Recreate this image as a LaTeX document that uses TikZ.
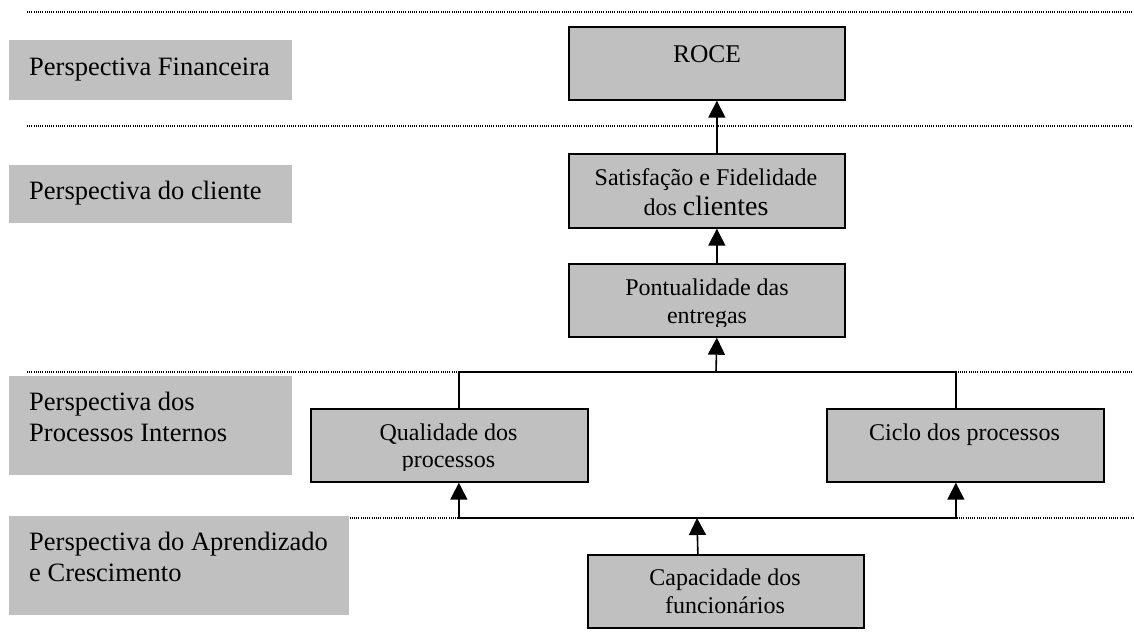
\documentclass[tikz,border=0pt]{standalone}
\usepackage{fontspec}
\setmainfont{Liberation Serif}
\usetikzlibrary{arrows.meta}
\definecolor{boxgray}{HTML}{C0C0C0}
\begin{document}
\begin{tikzpicture}[x=1pt,y=-1pt,
  lab/.style={fill=boxgray, draw=none, inner sep=0pt, anchor=north west},
  kbox/.style={fill=boxgray, draw=black, line width=1.7pt, inner sep=0pt, anchor=north west, minimum width=276pt, minimum height=73pt},
  ltxt/.style={anchor=base west, inner sep=0pt, font=\fontsize{26.5}{30}\selectfont},
  btxt/.style={anchor=base, inner sep=0pt, font=\fontsize{24}{28}\selectfont},
  dots/.style={line width=1.2pt, dash pattern=on 1pt off 1.2pt, black},
  conn/.style={line width=1.6pt},
  arr/.style={conn, -{Triangle[width=17pt,length=17pt]}}]
\useasboundingbox (0,0) rectangle (1134,635);

% dotted separators
\coordinate (d1a) at (27,12);  \coordinate (d1b) at (1134,12);
\coordinate (d2a) at (27,126); \coordinate (d2b) at (1134,126);
\coordinate (d3a) at (27,372); \coordinate (d3b) at (1134,372);
\coordinate (d4a) at (343,518); \coordinate (d4b) at (1134,518);
\draw[dots] (d1a) -- (d1b);
\draw[dots] (d2a) -- (d2b);
\draw[dots] (d3a) -- (d3b);
\draw[dots] (d4a) -- (d4b);

% left perspective labels
\node[lab, minimum width=283pt, minimum height=60pt] (pfin) at (9,40) {};
\node[ltxt] (pfint) at (29,75) {Perspectiva Financeira};
\node[lab, minimum width=283pt, minimum height=58pt] (pcli) at (9,165) {};
\node[ltxt] (pclit) at (29,199) {Perspectiva do cliente};
\node[lab, minimum width=283pt, minimum height=99pt] (ppro) at (9,376) {};
\node[ltxt] (pprot1) at (29,410) {Perspectiva dos};
\node[ltxt] (pprot2) at (29,441) {Processos Internos};
\node[lab, minimum width=340pt, minimum height=99pt] (papr) at (9,516) {};
\node[ltxt] (paprt1) at (29,550) {Perspectiva do Aprendizado};
\node[ltxt] (paprt2) at (29,581) {e Crescimento};

% boxes
\node[kbox] (roce) at (568,26) {};
\node[kbox, minimum height=74pt] (sat) at (568,153) {};
\node[kbox] (pont) at (568,263) {};
\node[kbox, minimum width=277pt] (qual) at (310,408) {};
\node[kbox, minimum width=277pt] (ciclo) at (826,408) {};
\node[kbox] (cap) at (587,554) {};

% box texts
\node[btxt, font=\fontsize{25.5}{28}\selectfont] (roceT) at (707,62) {ROCE};
\node[btxt] (satT1) at (706,185) {Satisfação e Fidelidade};
\node[btxt] (satT2) at (706,215) {dos {\fontsize{28}{30}\selectfont clientes}};
\begin{scope}
  \clip (568,263) rectangle (844,326);
  \node[btxt] (pontT1) at (707,295) {Pontualidade das};
  \node[btxt] (pontT2) at (707,323) {entregas};
\end{scope}
\begin{scope}
  \clip (310,408) rectangle (587,470.5);
  \node[btxt] (qualT1) at (448.5,440) {Qualidade dos};
  \node[btxt] (qualT2) at (448.5,467) {processos};
\end{scope}
\node[btxt] (cicloT) at (964.5,440) {Ciclo dos processos};
\node[btxt] (capT1) at (725,585) {Capacidade dos};
\node[btxt] (capT2) at (725,613) {funcionários};

% connectors
\coordinate (jt) at (716,372);
\coordinate (jb) at (697,518);
\draw[arr] ([xshift=10pt]sat.north) -- ([xshift=10pt]roce.south);
\draw[arr] ([xshift=10pt]pont.north) -- ([xshift=10pt]sat.south);
\draw[conn] ([xshift=9.5pt]qual.north) |- (jt) -| ([xshift=-9.5pt]ciclo.north);
\draw[arr] (jt) -- ([xshift=10pt]pont.south);
\draw[arr] ([xshift=-28pt]cap.north) -- (jb);
\draw[arr] (jb) -| ([xshift=9.5pt]qual.south);
\draw[arr] (jb) -| ([xshift=-9.5pt]ciclo.south);
\end{tikzpicture}
\end{document}
